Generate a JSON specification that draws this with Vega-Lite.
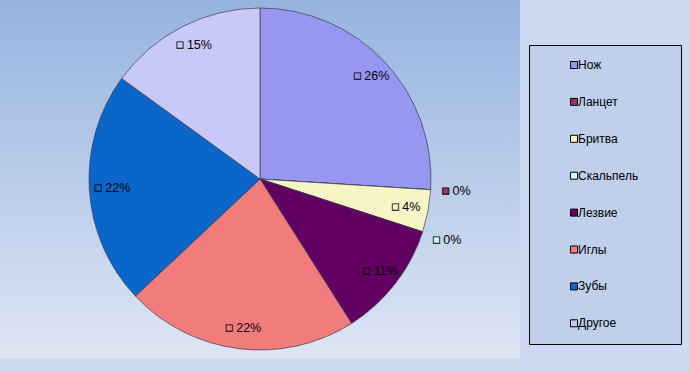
{
  "$schema": "https://vega.github.io/schema/vega-lite/v6.json",
  "width": 520,
  "height": 358,
  "autosize": {"type": "none"},
  "padding": {"left": 0, "top": 0, "right": 169, "bottom": 14},
  "background": "#cdd9f0",
  "config": {
    "font": "Liberation Sans",
    "view": {"stroke": null}
  },
  "layer": [
    {
      "data": {"values": [{"bg": 1}]},
      "mark": {"type": "rect", "color": {"gradient": "linear", "x1": 0, "y1": 0, "x2": 0, "y2": 1,
        "stops": [{"offset": 0, "color": "#95b3e0"}, {"offset": 1, "color": "#dee5f4"}]}},
      "encoding": {}
    },
    {
      "data": {
        "values": [
          {"i": 1, "k": "Нож", "v": 0.26},
          {"i": 2, "k": "Ланцет", "v": 0},
          {"i": 3, "k": "Бритва", "v": 0.04},
          {"i": 4, "k": "Скальпель", "v": 0},
          {"i": 5, "k": "Лезвие", "v": 0.11},
          {"i": 6, "k": "Иглы", "v": 0.22},
          {"i": 7, "k": "Зубы", "v": 0.22},
          {"i": 8, "k": "Другое", "v": 0.15}
        ]
      },
      "encoding": {
        "theta": {"field": "v", "type": "quantitative", "stack": true},
        "order": {"field": "i", "type": "quantitative"},
        "color": {
          "field": "k",
          "type": "nominal",
          "scale": {
            "domain": ["Нож", "Ланцет", "Бритва", "Скальпель", "Лезвие", "Иглы", "Зубы", "Другое"],
            "range": ["#9797f2", "#993366", "#f5f5c6", "#ccffff", "#620062", "#f27c7c", "#0a66c8", "#c9c9f7"]
          },
          "legend": {
            "orient": "none",
            "legendX": 529,
            "legendY": 45,
            "title": "w",
            "titleColor": "rgba(0,0,0,0)",
            "titleOrient": "right",
            "titleAngle": 0,
            "titleFontWeight": "normal",
            "titlePadding": 20,
            "titleFontSize": 12,
            "padding": 14,
            "symbolOffset": 25,
            "labelOffset": -2,
            "rowPadding": 24.9,
            "symbolType": "square",
            "symbolSize": 49,
            "symbolStrokeColor": "black",
            "symbolStrokeWidth": 1,
            "labelFontSize": 12,
            "labelColor": "black",
            "labelFont": "Liberation Sans",
            "strokeColor": "black",
            "fillColor": "#bfcfec"
          }
        }
      },
      "layer": [
        {"mark": {"type": "arc", "radius": 171, "stroke": "#3c3c50", "strokeWidth": 0.7}},
        {
          "mark": {"type": "text", "radius": 150, "dx": -12, "stroke": "black", "strokeWidth": 0.8, "fontSize": 13, "baseline": "middle", "align": "center"},
          "encoding": {"text": {"condition": {"test": "datum.v > 0", "value": "■"}, "value": ""}}
        },
        {
          "mark": {"type": "text", "radius": 150, "dx": -5, "fontSize": 12.5, "baseline": "middle", "align": "left"},
          "encoding": {
            "color": {"value": "black"},
            "text": {"condition": {"test": "datum.v > 0", "field": "v", "format": ".0%"}, "value": ""}
          }
        },
        {
          "mark": {"type": "text", "radius": 198, "dx": -12, "stroke": "black", "strokeWidth": 0.8, "fontSize": 13, "baseline": "middle", "align": "center"},
          "encoding": {"text": {"condition": {"test": "datum.v == 0", "value": "■"}, "value": ""}}
        },
        {
          "mark": {"type": "text", "radius": 198, "dx": -5, "fontSize": 12.5, "baseline": "middle", "align": "left"},
          "encoding": {
            "color": {"value": "black"},
            "text": {"condition": {"test": "datum.v == 0", "field": "v", "format": ".0%"}, "value": ""}
          }
        }
      ]
    }
  ]
}
